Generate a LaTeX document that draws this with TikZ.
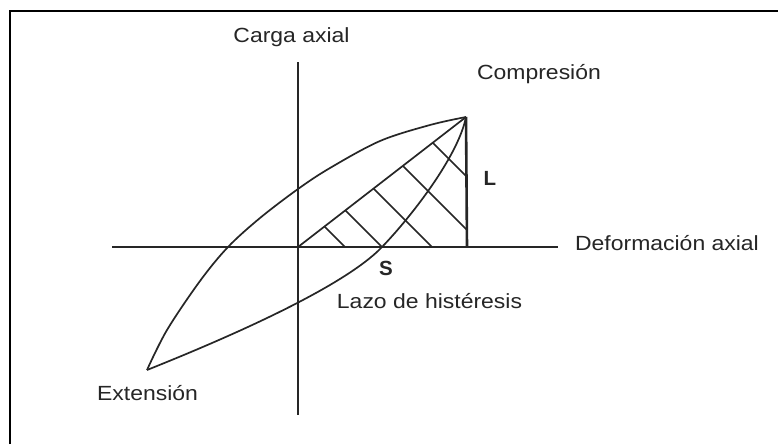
\documentclass[tikz,border=0pt]{standalone}
\usepackage{fontspec}
\setmainfont{Liberation Sans}
\newcommand\wtxt[1]{\scalebox{1.12}[1]{#1}}
\begin{document}
\begin{tikzpicture}[x=1pt,y=-1pt,
  lbl/.style={inner sep=0pt, anchor=base, font=\fontsize{20.5}{24}\selectfont, text=black!85},
  bl/.style={lbl, font=\fontsize{20.5}{24}\selectfont\bfseries},
  ln/.style={line width=1.7pt, draw=black!85},
  thk/.style={line width=2.6pt, draw=black!85},
  frame/.style={line width=2.4pt, draw=black}]
\useasboundingbox (0,0) rectangle (778,444);
\fill[white] (0,0) rectangle (778,444);
% frame (left and top edges)
\coordinate (fa) at (10,444);
\coordinate (fb) at (10,11);
\coordinate (fc) at (778,11);
\draw[frame] (fa) -- (fb) -- (fc);
% key points
\coordinate (O) at (298,247);
\coordinate (P) at (466,117);
\coordinate (F) at (467,247);
\coordinate (T) at (147,370);
\coordinate (S0) at (382,247);
\coordinate (vtop) at (298,62);
\coordinate (vbot) at (298,415);
\coordinate (hl) at (112,247);
\coordinate (hr) at (558,247);
% axes
\draw[ln] (vtop) -- (vbot);
\draw[ln] (hl) -- (hr);
% hatching
\begin{scope}
  \clip (O) -- (P) -- (F) -- cycle;
  \foreach \x in {345,382,432,484,537}
    \draw[ln] (\x-150,97) -- (\x+10,257);
\end{scope}
\draw[ln] (O) -- (P);
\draw[thk] (P) -- (F);
% hysteresis loop
\draw[ln] plot[smooth, tension=0.55] coordinates {(147,370) (167,330) (200,281) (228,247) (260,218) (298,189) (330,168) (380,141) (430,125) (466,117)};
\draw[ln] (T) .. controls (212,344) and (341,290) .. (S0)
              .. controls (410,218) and (458,157) .. (P);
% labels
\node[lbl] (carga) at (291.5,42) {\wtxt{Carga axial}};
\node[lbl] (comp) at (539,79) {\wtxt{Compresión}};
\node[bl] (L) at (490,185) {L};
\node[lbl] (def) at (667,250) {\wtxt{Deformación axial}};
\node[bl] (S) at (386,275) {S};
\node[lbl] (lazo) at (429.5,308) {\wtxt{Lazo de histéresis}};
\node[lbl] (ext) at (147.5,400) {\wtxt{Extensión}};
\end{tikzpicture}
\end{document}
